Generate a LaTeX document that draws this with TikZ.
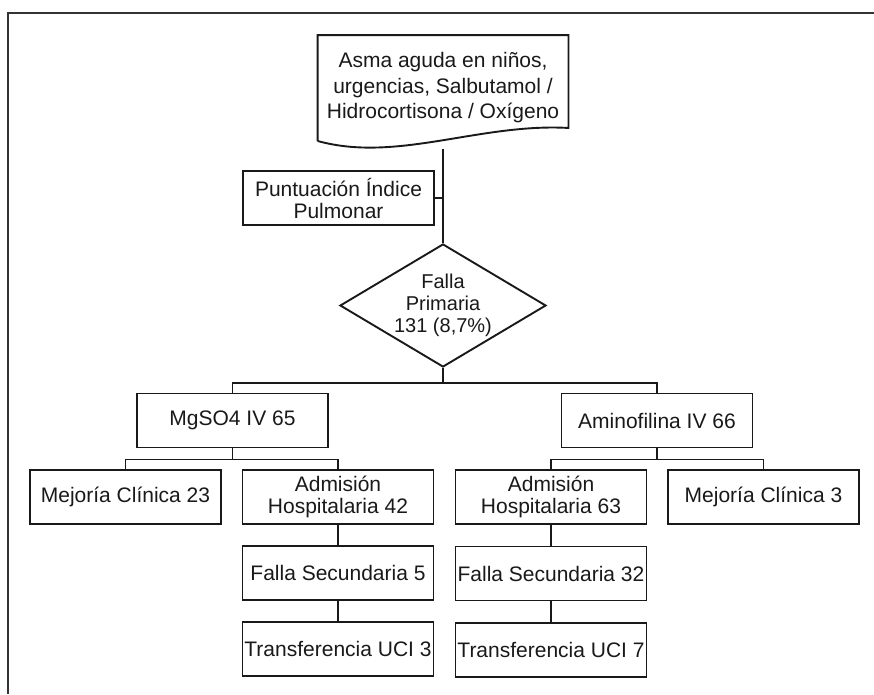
\documentclass[tikz,border=0pt]{standalone}
\usepackage{fontspec}
\setmainfont{Liberation Sans}
\usepackage{tikz}
\usetikzlibrary{positioning,calc,shapes.geometric}

\begin{document}
\begin{tikzpicture}[
  x=1pt, y=-1pt, color=black!90,
  font=\fontsize{21}{22}\selectfont,
  every path/.style={line width=1.9pt},
  box/.style={draw, minimum width=191pt, minimum height=54pt, inner sep=0pt, align=center},
  doc/.style={minimum width=249pt, minimum height=104pt, inner sep=0pt, align=center,
    font=\fontsize{21}{25.5}\selectfont},
  choice/.style={draw, diamond, aspect=1.675, minimum width=206pt, minimum height=123pt,
    inner sep=0pt, align=center, font=\fontsize{20}{22}\selectfont},
  frame/.style={line width=2pt, draw=black!80}]
  \useasboundingbox (0,0) rectangle (874,694);
  \draw[frame] (874,12.5) -- (8,12.5) -- (8,694);
  \node[doc] (asma) at (443,88) {Asma aguda en niños,\\urgencias, Salbutamol /\\Hidrocortisona / Oxígeno};
  \draw (asma.south west) -- (asma.north west) -- (asma.north east)
    -- ($(asma.south east)+(0,-13)$)
    .. controls ($(asma.south east)+(-89,-18)$) and ($(asma.south west)+(79,22)$) .. (asma.south west);
  \node[box] (punt) at (338.5,198) {Puntuación Índice\\Pulmonar};
  \node[choice] (falla) at (443,305.5) {Falla\\Primaria\\131 (8,7\%)};
  \node[box] (mg) at (232.5,420.5) {MgSO4 IV 65};
  \node[box] (amino) at (657,420.5) {Aminofilina IV 66};
  \node[box] (mej23) at (125.5,497) {Mejoría Clínica 23};
  \node[box] (adm42) at (338,497) {Admisión\\Hospitalaria 42};
  \node[box] (fs5) at (338,573) {Falla Secundaria 5};
  \node[box] (tr3) at (338,649) {Transferencia UCI 3};
  \node[box] (adm63) at (551,497) {Admisión\\Hospitalaria 63};
  \node[box] (mej3) at (763.5,497) {Mejoría Clínica 3};
  \node[box] (fs32) at (551,573.5) {Falla Secundaria 32};
  \node[box] (tr7) at (551,650) {Transferencia UCI 7};
  \draw[shorten <=8pt] (asma.south) -- (falla.north);
  \draw (punt.east) -- (punt.east -| falla.north);
  \draw (falla.south) -- ++(0,15) coordinate (split1);
  \draw (mg.north) |- (split1) -| (amino.north);
  \draw (mg.south) -- ++(0,11) coordinate (split2);
  \draw (mej23.north) |- (split2) -| (adm42.north);
  \draw (amino.south) -- ++(0,11) coordinate (split3);
  \draw (adm63.north) |- (split3) -| (mej3.north);
  \draw (adm42.south) -- (fs5.north);
  \draw (fs5.south) -- (tr3.north);
  \draw (adm63.south) -- (fs32.north);
  \draw (fs32.south) -- (tr7.north);
\end{tikzpicture}
\end{document}
